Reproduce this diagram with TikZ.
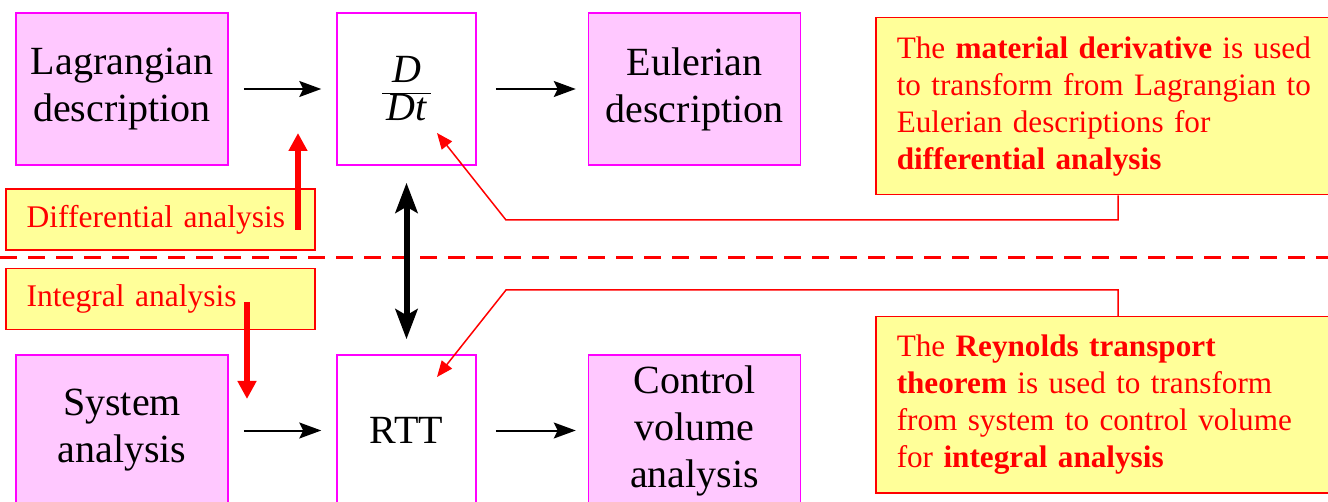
\documentclass[tikz,border=0pt]{standalone}
\usepackage{fontspec}
\setmainfont{Liberation Serif}
\usetikzlibrary{arrows.meta}
\definecolor{boxpink}{RGB}{255,200,255}
\definecolor{boxmag}{RGB}{255,0,255}
\definecolor{noteyel}{RGB}{255,255,153}
\definecolor{notered}{RGB}{255,0,0}
\begin{document}
\begin{tikzpicture}[x=1pt,y=-1pt,
  conceptbox/.style={draw=boxmag, line width=1.5pt, fill=boxpink, minimum width=212pt,
    minimum height=152pt, inner sep=0pt, align=center, font=\fontsize{40}{47}\selectfont},
  opbox/.style={conceptbox, fill=white, minimum width=139pt},
  note/.style={draw=notered, line width=1.5pt, fill=noteyel, text=notered, align=left,
    inner xsep=21pt, inner ysep=0pt, font=\fontsize{31.2}{37}\selectfont},
  tag/.style={note, text width=267pt, minimum height=61pt, font=\fontsize{31.5}{37}\selectfont},
  flow/.style={draw=black, line width=2pt, -{Stealth[length=22pt,width=16pt,inset=4pt]}},
  link/.style={draw=black, line width=6pt, {Stealth[length=30pt,width=22pt,inset=6pt]}-{Stealth[length=30pt,width=22pt,inset=6pt]}},
  bigred/.style={draw=notered, line width=6pt, -{Triangle[length=18pt,width=18pt]}},
  callout/.style={draw=notered, line width=1.5pt, -{Triangle[length=16pt,width=13pt]}},
  divider/.style={draw=notered, line width=3pt, dash pattern=on 17pt off 11pt}
]
\useasboundingbox (0,0) rectangle (1328,502);
\clip (0,0) rectangle (1328,502);

% divider
\coordinate (dl) at (0,258);
\coordinate (dr) at (1328,258);
\draw[divider] (dl) -- (dr);

% main boxes
\node[conceptbox] (lag) at (122,89) {Lagrangian\\description};
\node[opbox] (ddt) at (406.5,89) {$\displaystyle\frac{\,\textit{D}\,}{\,\textit{Dt}\,}$};
\node[conceptbox] (eul) at (694.5,89) {Eulerian\\description};
\node[conceptbox, minimum height=151pt] (sys) at (122,430.5) {System\\analysis};
\node[opbox, minimum height=151pt] (rtt) at (406.5,430.5) {RTT};
\node[conceptbox, minimum height=151pt] (cv) at (694.5,430.5) {Control\\volume\\analysis};

% flow arrows
\draw[flow] ([xshift=15pt]lag.east) -- ([xshift=-15pt]ddt.west);
\draw[flow] ([xshift=19pt]ddt.east) -- ([xshift=-12pt]eul.west);
\draw[flow] ([xshift=15pt]sys.east) -- ([xshift=-15pt]rtt.west);
\draw[flow] ([xshift=19pt]rtt.east) -- ([xshift=-12pt]cv.west);

% double arrow
\draw[link] ([yshift=-17pt]ddt.south) -- ([yshift=15pt]rtt.north);

% analysis tags
\node[tag, anchor=west] (diff) at (5,219.5) {Differential analysis};
\node[tag, anchor=west] (integ) at (5,299) {Integral analysis};
\coordinate (da) at (298,230);
\coordinate (db) at (298,133);
\draw[bigred] (da) -- (db);
\coordinate (ia) at (247,302);
\coordinate (ib) at (247,399);
\draw[bigred] (ia) -- (ib);

% callout notes
\node[note, anchor=north west, text width=430pt, minimum height=177pt] (mat) at (875,17)
  {The \textbf{material derivative} is used\\to transform from Lagrangian to\\Eulerian descriptions for\\\textbf{differential analysis}};
\node[note, anchor=north west, text width=430pt, minimum height=176pt] (rtn) at (875,316)
  {The \textbf{Reynolds transport}\\\textbf{theorem} is used to transform\\from system to control volume\\for \textbf{integral analysis}};

\coordinate (k1) at (1118,220);
\coordinate (k2) at (506,220);
\coordinate (t1) at (437,133);
\draw[callout] (mat.south -| k1) -- (k1) -- (k2) -- (t1);
\coordinate (k3) at (1118,290);
\coordinate (k4) at (506,290);
\coordinate (t2) at (437,377);
\draw[callout] (rtn.north -| k3) -- (k3) -- (k4) -- (t2);
\end{tikzpicture}
\end{document}
